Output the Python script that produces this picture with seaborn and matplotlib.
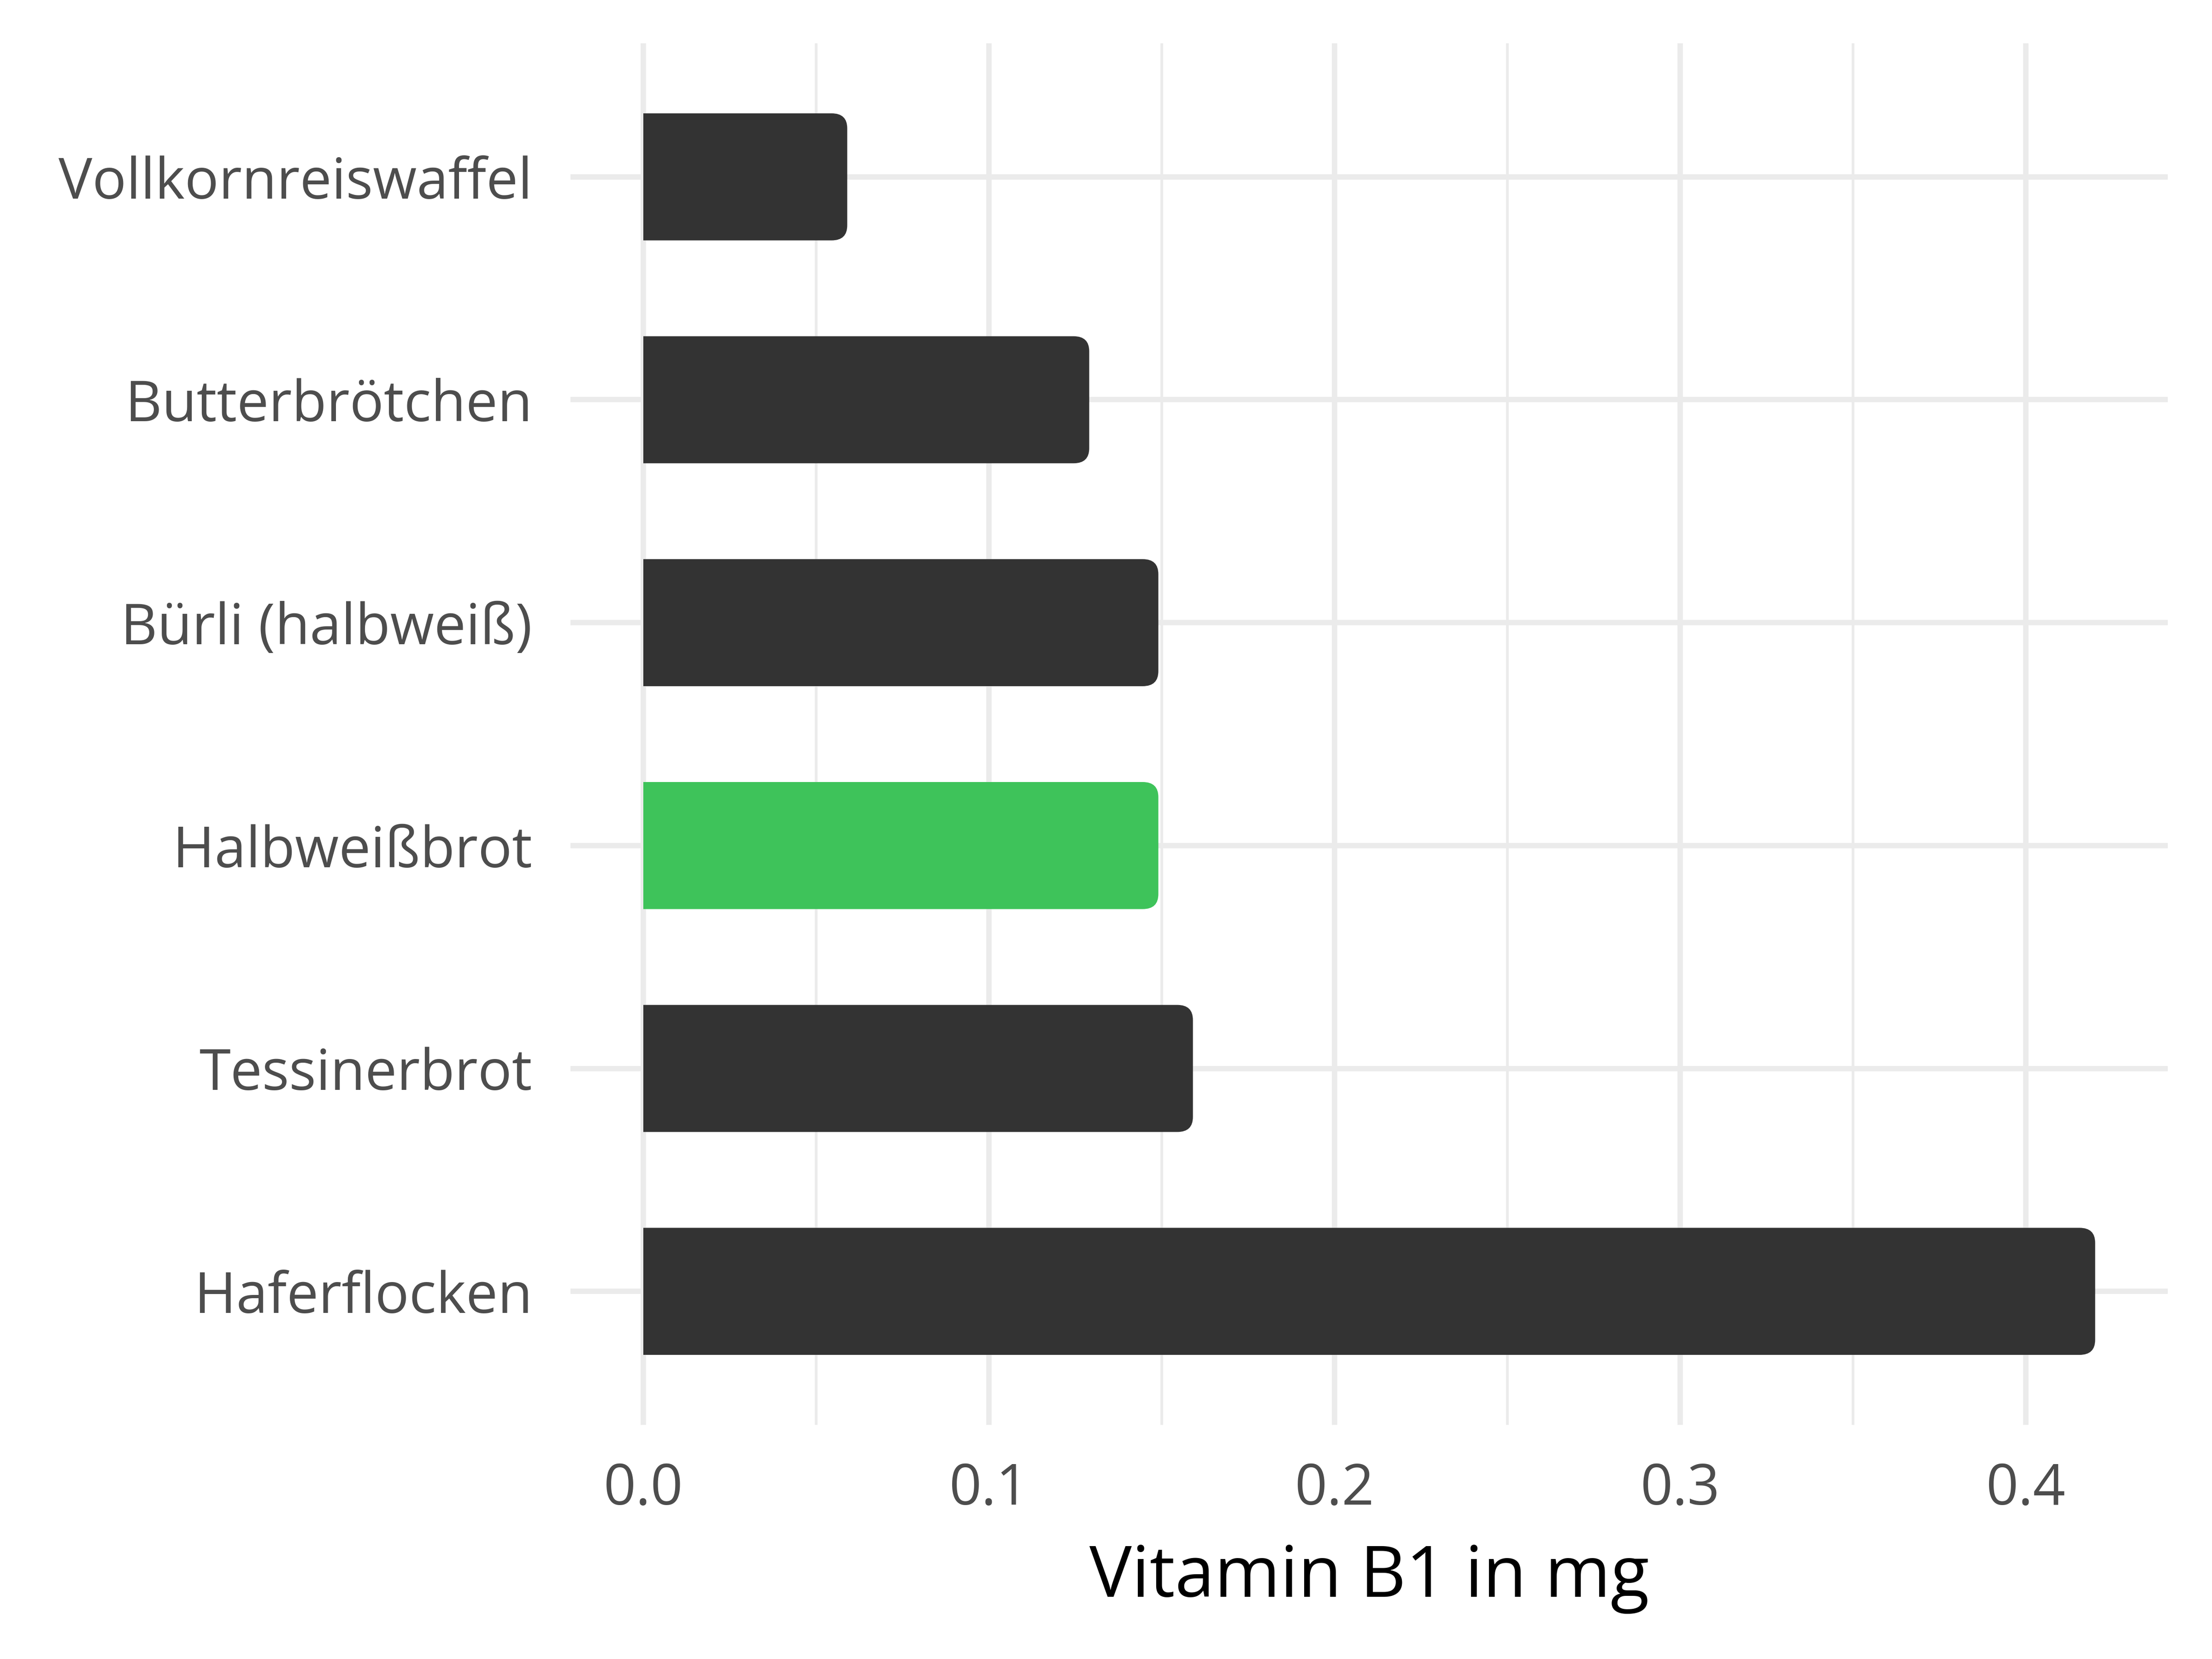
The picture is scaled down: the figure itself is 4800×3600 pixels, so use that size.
import matplotlib
matplotlib.use("Agg")
import matplotlib.pyplot as plt
import seaborn as sns
import pandas as pd
from matplotlib.patches import FancyBboxPatch, Rectangle

categories = ["Vollkornreiswaffel", "Butterbrötchen", "Bürli (halbweiß)",
              "Halbweißbrot", "Tessinerbrot", "Haferflocken"]
values = [0.059, 0.129, 0.149, 0.149, 0.159, 0.42]
highlight = ["no", "no", "no", "yes", "no", "no"]
x_ticks = [0.0, 0.1, 0.2, 0.3, 0.4]
x_minor = [0.05, 0.15, 0.25, 0.35]
x_label = "Vitamin B1 in mg"

df = pd.DataFrame({"food": categories, "value": values, "hl": highlight})

sns.set_theme(style="white")
plt.rcParams["font.family"] = ["Open Sans", "DejaVu Sans"]

fig = plt.figure(figsize=(16, 12), dpi=300)
ax = fig.add_axes([0.258, 0.141, 0.980 - 0.258, 0.974 - 0.141])

palette = {"no": "#333333", "yes": "#3EC35A"}
sns.barplot(data=df, x="value", y="food", hue="hl", palette=palette,
            order=categories, hue_order=["no", "yes"], dodge=False,
            width=0.57, legend=False, ax=ax, orient="h", saturation=1)

ax.set_xlim(-0.021, 0.441)
ax.set_ylim(len(categories) - 0.4, -0.6)

# replace bars with right-rounded bars
clip = Rectangle((0, -10), 10, 30, transform=ax.transData, visible=False)
ax.add_patch(clip)
rx = 0.0045
aspect = 15.0
for p in list(ax.patches):
    if p is clip:
        continue
    w = p.get_width()
    if w == 0 or not hasattr(p, "get_height"):
        continue
    x0, y0, h = p.get_x(), p.get_y(), p.get_height()
    fc = p.get_facecolor()
    p.remove()
    fb = FancyBboxPatch((x0 - 0.01, y0), w + 0.01, h,
                        boxstyle=f"round,pad=0,rounding_size={rx}",
                        mutation_aspect=aspect, facecolor=fc,
                        edgecolor="none", zorder=3)
    ax.add_patch(fb)
    fb.set_clip_path(clip)

ax.set_xticks(x_ticks)
ax.set_xticklabels([f"{t:.1f}" for t in x_ticks])
ax.set_xticks(x_minor, minor=True)
ax.grid(True, which="major", axis="both", color="#EBEBEB", linewidth=2.8, zorder=0)
ax.grid(True, which="minor", axis="x", color="#EBEBEB", linewidth=1.4, zorder=0)
ax.set_axisbelow(True)
for s in ax.spines.values():
    s.set_visible(False)

ax.tick_params(axis="both", which="both", length=0)
ax.tick_params(axis="y", pad=20, labelsize=29.5, labelcolor="#4D4D4D")
ax.tick_params(axis="x", pad=19, labelsize=29.5, labelcolor="#4D4D4D")
ax.set_ylabel("")
ax.set_xlabel(x_label, fontsize=37, color="black", labelpad=13)

fig.savefig("out.png", dpi=300, facecolor="white")
